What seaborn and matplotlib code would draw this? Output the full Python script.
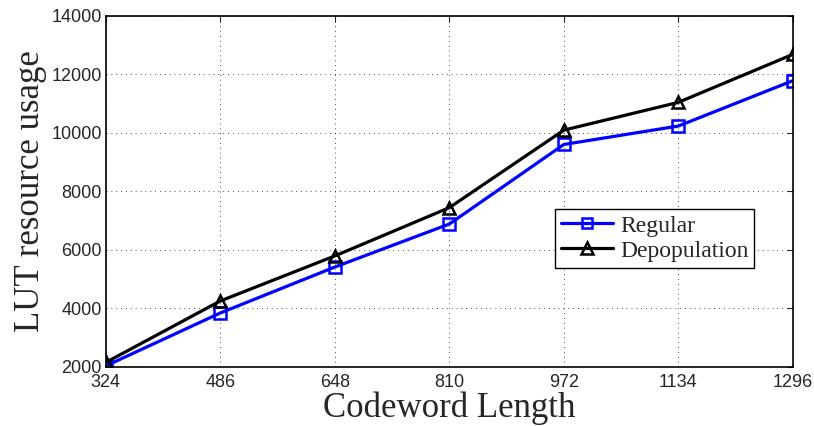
import matplotlib
matplotlib.use("Agg")
import matplotlib.pyplot as plt
import seaborn as sns
import pandas as pd

codeword_length = [324, 486, 648, 810, 972, 1134, 1296]
regular = [2030, 3840, 5410, 6880, 9600, 10230, 11780]
depopulation = [2150, 4250, 5790, 7440, 10090, 11040, 12680]
y_ticks = [2000, 4000, 6000, 8000, 10000, 12000, 14000]

sns.set_style("white")
plt.rcParams['font.family'] = ['Liberation Sans', 'DejaVu Sans']

df = pd.DataFrame({
    "x": codeword_length * 2,
    "y": regular + depopulation,
    "series": ["Regular"] * len(regular) + ["Depopulation"] * len(depopulation),
})

fig = plt.figure(figsize=(8.14, 4.26), dpi=100)
ax = fig.add_axes([0.130, 0.139, 0.844, 0.824])

sns.lineplot(data=df, x="x", y="y", hue="series", style="series",
             palette={"Regular": "#0000ff", "Depopulation": "black"},
             markers={"Regular": "s", "Depopulation": "^"},
             dashes=False, linewidth=2.3, markersize=8,
             markerfacecolor="none", markeredgewidth=1.8, ax=ax, legend=False)
for line, c in zip(ax.get_lines(), ["#0000ff", "black"]):
    line.set_markeredgecolor(c)
    line.set_markerfacecolor("none")

ax.set_xlim(324, 1296)
ax.set_ylim(2000, 14000)
ax.set_xticks(codeword_length)
ax.set_xticklabels([str(v) for v in codeword_length])
ax.set_yticks(y_ticks)
ax.set_yticklabels([str(v) for v in y_ticks])
ax.tick_params(direction="in", length=4, labelsize=13, top=True, right=True)
ax.tick_params(axis="x", pad=5)
ax.tick_params(axis="y", pad=3)
ax.grid(True, linestyle=(0, (1, 4)), color="black", linewidth=0.7, alpha=0.7)
for s in ax.spines.values():
    s.set_visible(True)
    s.set_color("black")
    s.set_linewidth(1.2)

ax.set_xlabel("Codeword Length", fontfamily="Liberation Serif", fontsize=25, labelpad=0.5)
ax.set_ylabel("LUT resource usage", fontfamily="Liberation Serif", fontsize=25, labelpad=3)

from matplotlib.lines import Line2D
handles = [
    Line2D([], [], color="#0000ff", marker="s", markerfacecolor="none", markeredgecolor="#0000ff",
           markeredgewidth=1.8, linewidth=2.3, markersize=7),
    Line2D([], [], color="black", marker="^", markerfacecolor="none", markeredgecolor="black",
           markeredgewidth=1.8, linewidth=2.3, markersize=8),
]
leg = ax.legend(handles, ["Regular", "Depopulation"], loc="upper left",
                bbox_to_anchor=(0.654, 0.449), prop={"family": "Liberation Serif", "size": 17},
                frameon=True, fancybox=False, edgecolor="black", framealpha=1,
                handlelength=2.2, borderpad=0.25, labelspacing=0.15, handletextpad=0.3,
                borderaxespad=0)
leg.get_frame().set_linewidth(1.0)

fig.savefig("out.png", dpi=100, facecolor="white")
